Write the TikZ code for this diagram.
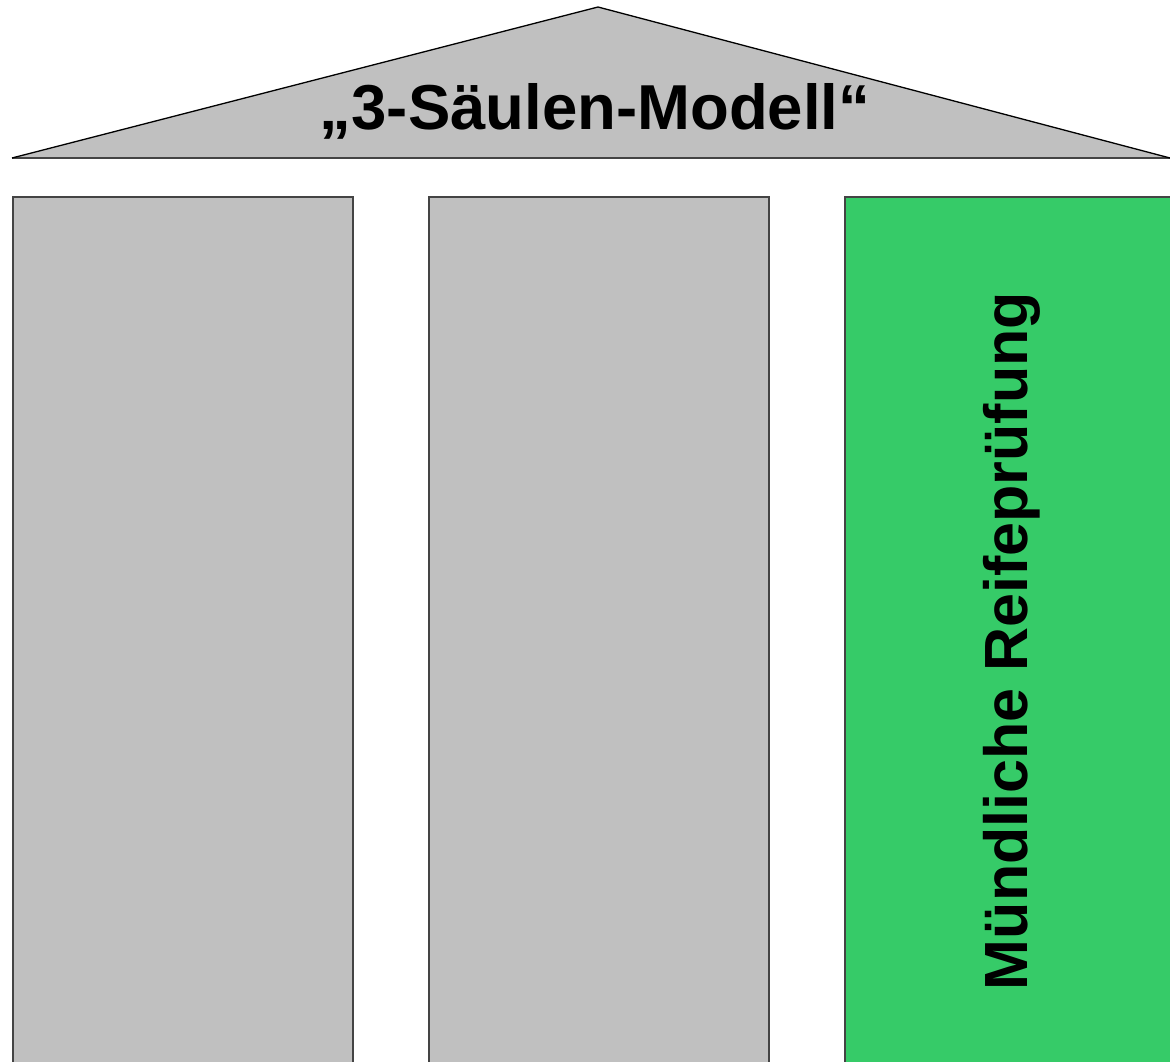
\documentclass[tikz,border=0pt]{standalone}
\usepackage{fontspec}
\setmainfont{Liberation Sans}
\definecolor{pillargrey}{HTML}{C0C0C0}
\definecolor{edgegrey}{HTML}{444444}
\definecolor{pillargreen}{HTML}{36CB68}
\begin{document}
\begin{tikzpicture}[x=1pt,y=-1pt,
  pillar/.style={draw=edgegrey,line width=1.6pt},
  roofline/.style={draw=black,line width=1.3pt}]
\useasboundingbox (0,0) rectangle (1170,1062);
\fill[pillargrey] (12,158) -- (598,7) -- (1170,158) -- cycle;
\draw[edgegrey,line width=1.6pt] (12,158) -- (1170,158);
\draw[roofline,line join=miter] (12,158) -- (598,7) -- (1170,158);
\node[font=\bfseries\fontsize{63.5}{70}\selectfont,inner sep=0pt,anchor=base] (title) at (595,130) {„3-Säulen-Modell“};
\node[pillar,fill=pillargrey,minimum width=340pt,minimum height=880pt,anchor=north west,inner sep=0pt] (p1) at (12,196) {};
\node[pillar,fill=pillargrey,minimum width=340pt,minimum height=880pt,anchor=north west,inner sep=0pt] (p2) at (428,196) {};
\node[pillar,fill=pillargreen,minimum width=340pt,minimum height=880pt,anchor=north west,inner sep=0pt] (p3) at (844,196) {};
\node[font=\bfseries\fontsize{61}{68}\selectfont,inner sep=0pt,rotate=90,anchor=base] (label) at (1027,641) {Mündliche Reifeprüfung};
\end{tikzpicture}
\end{document}
